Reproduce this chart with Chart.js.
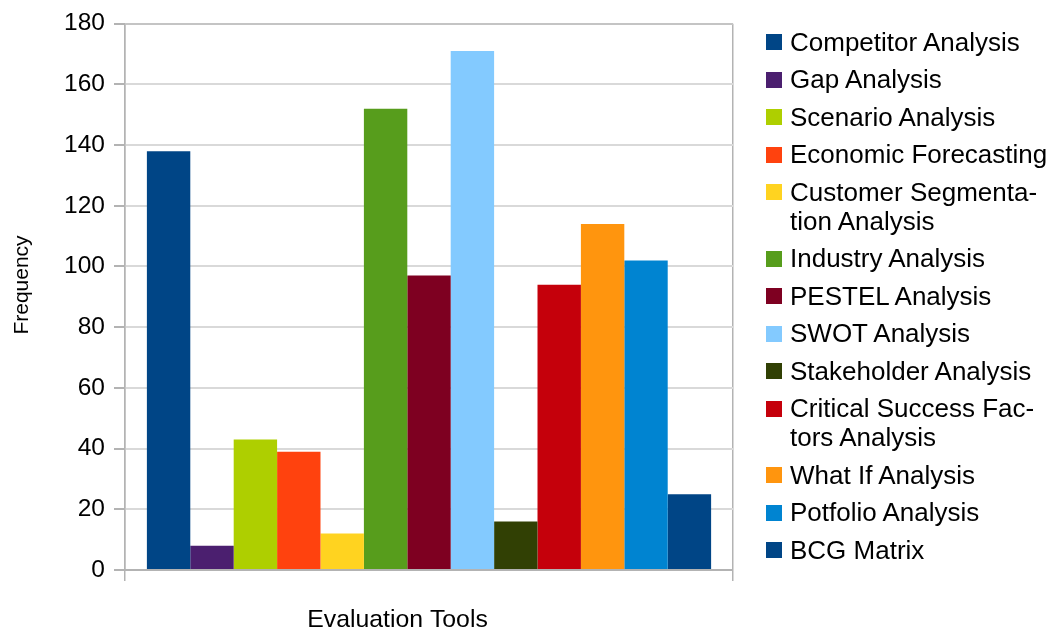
<!DOCTYPE html>
<html>
<head>
<meta charset="utf-8">
<script src="https://cdn.jsdelivr.net/npm/chart.js@4.4.0/dist/chart.umd.min.js"></script>
<style>
  html, body { margin: 0; padding: 0; background: #fff; }
  #wrap { position: relative; width: 1052px; height: 629px; overflow: hidden; }
  #c { position: absolute; left: 0; top: 0; }
  #legend {
    position: absolute; left: 766px; top: 27.5px;
    font-family: "Liberation Sans", Arial, sans-serif;
    font-size: 26px; line-height: 29px; color: #000; white-space: nowrap;
  }
  .item { position: relative; padding-left: 24px; margin-bottom: 8.5px; }
  .sw { position: absolute; left: 0; top: 6.5px; width: 16px; height: 16px; box-sizing: border-box; }
</style>
</head>
<body>
<div id="wrap">
  <canvas id="c" width="1052" height="629"></canvas>
  <div id="legend"></div>
</div>
<script>
// Survey of evaluation tools: how often each one was named
const categories = [''];
const seriesNames = [
  'Competitor Analysis', 'Gap Analysis', 'Scenario Analysis', 'Economic Forecasting',
  'Customer Segmentation Analysis', 'Industry Analysis', 'PESTEL Analysis', 'SWOT Analysis',
  'Stakeholder Analysis', 'Critical Success Factors Analysis', 'What If Analysis',
  'Potfolio Analysis', 'BCG Matrix'
];
// legend text as it wraps in the side panel
const legendLines = [
  ['Competitor Analysis'], ['Gap Analysis'], ['Scenario Analysis'], ['Economic Forecasting'],
  ['Customer Segmenta-', 'tion Analysis'], ['Industry Analysis'], ['PESTEL Analysis'],
  ['SWOT Analysis'], ['Stakeholder Analysis'], ['Critical Success Fac-', 'tors Analysis'],
  ['What If Analysis'], ['Potfolio Analysis'], ['BCG Matrix']
];
const frequencies = [138, 8, 43, 39, 12, 152, 97, 171, 16, 94, 114, 102, 25];
const seriesColors = [
  '#004586', '#4b1f6f', '#aecf00', '#ff420e', '#ffd320', '#579d1c', '#7e0021',
  '#83caff', '#314004', '#c5000b', '#ff950e', '#0084d1', '#004586'
];
const yMin = 0, yMax = 180, yStep = 20;
const xTitle = 'Evaluation Tools';
const yTitle = 'Frequency';

const FONT = '"Liberation Sans", Arial, sans-serif';

// Axis titles drawn by hand so they can sit off-centre
const axisTitles = {
  id: 'axisTitles',
  afterDraw(chart) {
    const ctx = chart.ctx;
    ctx.save();
    ctx.fillStyle = '#000';
    ctx.textAlign = 'center';
    ctx.textBaseline = 'alphabetic';
    ctx.font = '24.8px ' + FONT;
    ctx.fillText(xTitle, 397.5, 627);
    ctx.translate(28, 285);
    ctx.rotate(-Math.PI / 2);
    ctx.font = '21px ' + FONT;
    ctx.fillText(yTitle, 0, 0);
    ctx.restore();
  }
};

const datasets = seriesNames.map((name, i) => ({
  label: name,
  data: [frequencies[i]],
  backgroundColor: seriesColors[i],
  borderWidth: 0,
  categoryPercentage: 0.928,
  barPercentage: 1.0
}));

new Chart(document.getElementById('c'), {
  type: 'bar',
  data: { labels: categories, datasets },
  options: {
    responsive: false,
    animation: false,
    devicePixelRatio: 1,
    layout: { padding: { left: 0, top: 21, right: 319, bottom: 0 } },
    plugins: { legend: { display: false }, tooltip: { enabled: false }, title: { display: false } },
    scales: {
      x: {
        ticks: { display: true, font: { family: FONT, size: 24 } },
        grid: { offset: true, color: '#b3b3b3', tickColor: '#b3b3b3', lineWidth: 1.5, tickLength: 11 },
        border: { color: '#b3b3b3', width: 2 },
        afterFit(s) { s.height = 59; }
      },
      y: {
        min: yMin, max: yMax,
        ticks: { stepSize: yStep, color: '#000', padding: 9, font: { family: FONT, size: 24.5 } },
        grid: {
          color: c => (c.tick && c.tick.value === yMax) ? '#c4c4c4' : '#d9d9d9',
          tickColor: '#b3b3b3', lineWidth: 2, tickLength: 11
        },
        border: { color: '#b3b3b3', width: 1.5 },
        afterFit(s) { s.width = 125; }
      }
    }
  },
  plugins: [axisTitles]
});

// Side legend, one row per series
const legend = document.getElementById('legend');
legendLines.forEach((lines, i) => {
  const item = document.createElement('div');
  item.className = 'item';
  const sw = document.createElement('span');
  sw.className = 'sw';
  sw.style.background = seriesColors[i];
  item.appendChild(sw);
  lines.forEach(t => {
    const line = document.createElement('div');
    line.textContent = t;
    item.appendChild(line);
  });
  legend.appendChild(item);
});
</script>
</body>
</html>
